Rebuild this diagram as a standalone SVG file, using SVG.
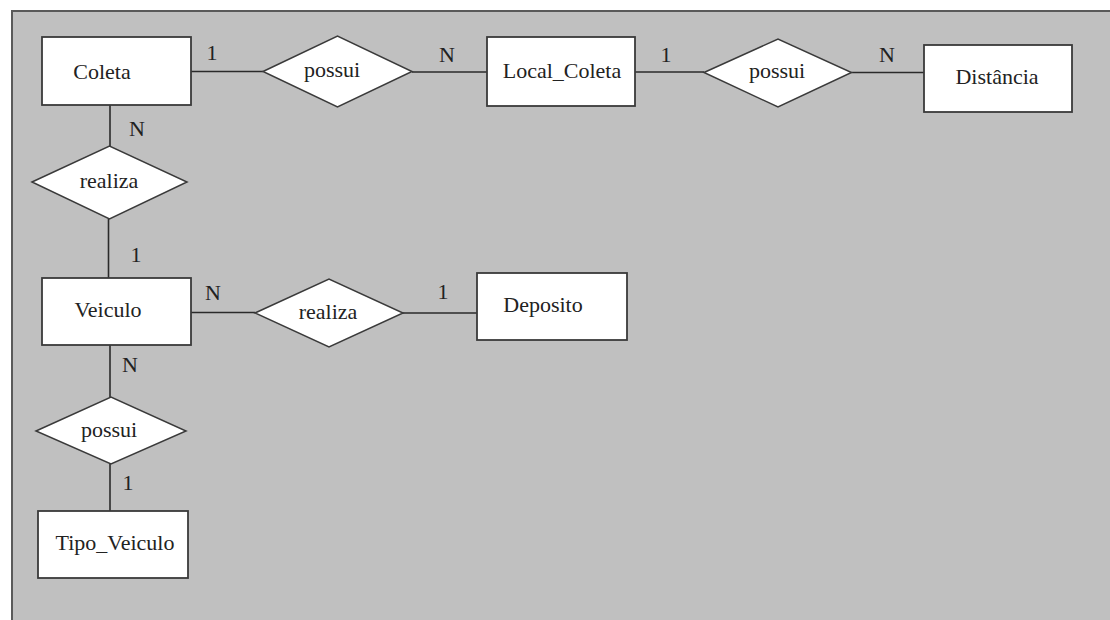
<svg xmlns="http://www.w3.org/2000/svg" width="1110" height="620" viewBox="0 0 1110 620">
<style>
.ent{fill:#ffffff;stroke:#3a3a3a;stroke-width:1.8}
.rel{fill:#ffffff;stroke:#3a3a3a;stroke-width:1.5}
text{font-family:'Liberation Serif','Times New Roman','DejaVu Serif',serif;fill:#222;text-anchor:middle}
.lbl{font-size:22px}
.card{font-size:22px}
.con line{stroke:#2a2a2a;stroke-width:1.6}
</style>
<rect x="0" y="0" width="1110" height="620" fill="#ffffff"/>
<rect x="12" y="11" width="1110" height="620" fill="#c0c0c0" stroke="#5a5a5a" stroke-width="2"/>
<g id="connectors" class="con">
<line x1="191" y1="71.5" x2="263" y2="71.5"/>
<line x1="412" y1="72" x2="487" y2="72"/>
<line x1="635" y1="72" x2="704" y2="72"/>
<line x1="851.5" y1="72.5" x2="924" y2="72.5"/>
<line x1="110" y1="105" x2="110" y2="146"/>
<line x1="108.5" y1="219" x2="108.5" y2="278"/>
<line x1="191" y1="312.5" x2="255" y2="312.5"/>
<line x1="403" y1="313" x2="477" y2="313"/>
<line x1="110" y1="345" x2="110" y2="397"/>
<line x1="110" y1="464" x2="110" y2="511"/>
<text class="card" x="212" y="60" font-family="Liberation Serif, serif">1</text>
<text class="card" x="447" y="62" font-family="Liberation Serif, serif">N</text>
<text class="card" x="666" y="62" font-family="Liberation Serif, serif">1</text>
<text class="card" x="887" y="62" font-family="Liberation Serif, serif">N</text>
<text class="card" x="137" y="136" font-family="Liberation Serif, serif">N</text>
<text class="card" x="136" y="262" font-family="Liberation Serif, serif">1</text>
<text class="card" x="213" y="300" font-family="Liberation Serif, serif">N</text>
<text class="card" x="443" y="299" font-family="Liberation Serif, serif">1</text>
<text class="card" x="130" y="372" font-family="Liberation Serif, serif">N</text>
<text class="card" x="128" y="490" font-family="Liberation Serif, serif">1</text>
</g>
<g id="coleta">
<rect class="ent" x="42" y="37" width="149" height="68"/>
<text class="lbl" x="102" y="79" font-family="Liberation Serif, serif">Coleta</text>
</g>
<g id="possui1">
<polygon class="rel" points="263,71.5 337.5,36 412,71.5 337.5,107"/>
<text class="lbl" x="332" y="77" font-family="Liberation Serif, serif">possui</text>
</g>
<g id="local_coleta">
<rect class="ent" x="487" y="37" width="148" height="69"/>
<text class="lbl" x="562" y="78" font-family="Liberation Serif, serif">Local_Coleta</text>
</g>
<g id="possui2">
<polygon class="rel" points="704,72.5 778,39 851.5,72.5 778,107"/>
<text class="lbl" x="777" y="78" font-family="Liberation Serif, serif">possui</text>
</g>
<g id="distancia">
<rect class="ent" x="924" y="45" width="148" height="67"/>
<text class="lbl" x="997" y="84" font-family="Liberation Serif, serif">Distância</text>
</g>
<g id="realiza1">
<polygon class="rel" points="32,182 109.5,146 187,182 109.5,219"/>
<text class="lbl" x="109" y="188" font-family="Liberation Serif, serif">realiza</text>
</g>
<g id="veiculo">
<rect class="ent" x="42" y="278" width="149" height="67"/>
<text class="lbl" x="108" y="317" font-family="Liberation Serif, serif">Veiculo</text>
</g>
<g id="realiza2">
<polygon class="rel" points="255,313 329,279 403,313 329,347"/>
<text class="lbl" x="328" y="319" font-family="Liberation Serif, serif">realiza</text>
</g>
<g id="deposito">
<rect class="ent" x="477" y="273" width="150" height="67"/>
<text class="lbl" x="543" y="312" font-family="Liberation Serif, serif">Deposito</text>
</g>
<g id="possui3">
<polygon class="rel" points="36,431 111,397 186,431 111,464"/>
<text class="lbl" x="109" y="437" font-family="Liberation Serif, serif">possui</text>
</g>
<g id="tipo_veiculo">
<rect class="ent" x="38" y="511" width="150" height="67"/>
<text class="lbl" x="115" y="550" font-family="Liberation Serif, serif">Tipo_Veiculo</text>
</g>
</svg>
